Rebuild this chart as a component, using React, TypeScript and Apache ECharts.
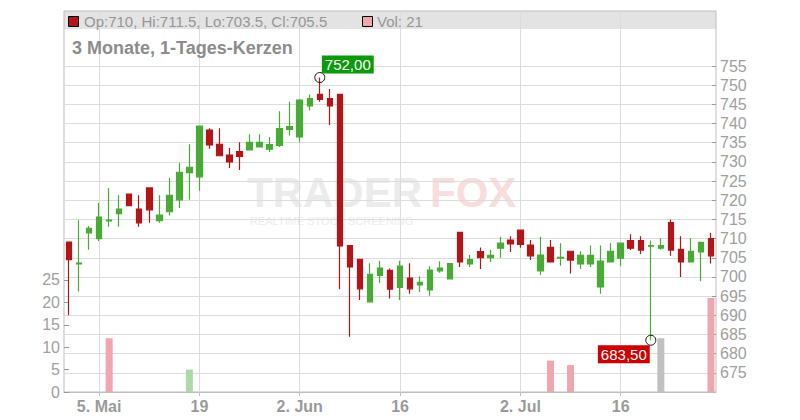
import React, { useEffect, useRef } from "react";
import * as echarts from "echarts";

const FONT = "'Liberation Sans', Arial, Helvetica, sans-serif";

const dates = [
  "2025-04-29", "2025-04-30", "2025-05-02", "2025-05-05", "2025-05-06", "2025-05-07", "2025-05-08", "2025-05-09",
  "2025-05-12", "2025-05-13", "2025-05-14", "2025-05-15", "2025-05-16", "2025-05-19", "2025-05-20", "2025-05-21",
  "2025-05-22", "2025-05-23", "2025-05-26", "2025-05-27", "2025-05-28", "2025-05-29", "2025-05-30", "2025-06-02",
  "2025-06-03", "2025-06-04", "2025-06-05", "2025-06-06", "2025-06-09", "2025-06-10", "2025-06-11", "2025-06-12",
  "2025-06-13", "2025-06-16", "2025-06-17", "2025-06-18", "2025-06-19", "2025-06-20", "2025-06-23", "2025-06-24",
  "2025-06-25", "2025-06-26", "2025-06-27", "2025-06-30", "2025-07-01", "2025-07-02", "2025-07-03", "2025-07-04",
  "2025-07-07", "2025-07-08", "2025-07-09", "2025-07-10", "2025-07-11", "2025-07-14", "2025-07-15", "2025-07-16",
  "2025-07-17", "2025-07-18", "2025-07-21", "2025-07-22", "2025-07-23", "2025-07-24", "2025-07-25", "2025-07-28",
  "2025-07-29",
];

const opens = [
  709.1, 703.4, 711.5, 710.0, 714.6, 716.5, 721.6, 717.7, 723.2, 714.7, 717.0, 720.1, 727.2, 726.1, 738.3, 734.6,
  731.8, 732.7, 733.1, 733.9, 733.3, 734.3, 738.5, 736.5, 744.6, 747.6, 746.5, 747.6, 708.2, 704.6, 693.5, 700.4,
  701.7, 697.3, 699.7, 697.9, 696.6, 701.6, 699.5, 711.6, 703.4, 706.6, 705.0, 707.5, 709.6, 712.2, 708.3, 701.6,
  707.7, 704.9, 706.7, 703.4, 703.4, 697.4, 703.9, 704.9, 709.5, 709.5, 708.0, 707.5, 714.2, 707.2, 703.9, 706.5,
  710.0,
];
const closes = [
  704.5, 703.6, 712.7, 715.6, 714.8, 717.7, 718.6, 714.1, 717.5, 716.1, 721.3, 727.3, 728.6, 739.3, 734.4, 731.6,
  730.0, 731.4, 735.1, 735.1, 734.5, 738.7, 739.2, 746.1, 746.5, 746.3, 744.6, 708.1, 702.6, 696.9, 700.7, 702.3,
  696.8, 702.8, 696.9, 698.6, 701.8, 702.3, 703.5, 703.9, 704.5, 705.0, 705.6, 708.8, 708.6, 708.5, 705.5, 705.7,
  703.9, 705.1, 704.4, 705.6, 705.6, 704.1, 706.7, 708.8, 707.5, 707.0, 708.2, 708.2, 707.0, 703.9, 706.7, 709.0,
  705.5,
];
const lows = [
  690.0, 696.2, 707.1, 709.4, 713.1, 713.1, 718.6, 713.1, 714.1, 714.1, 716.0, 718.0, 720.1, 722.5, 733.4, 731.6,
  728.4, 727.9, 733.1, 733.9, 732.6, 733.9, 736.9, 735.1, 743.4, 745.7, 739.6, 696.8, 684.4, 694.0, 693.5, 698.4,
  694.4, 694.0, 695.6, 696.1, 695.1, 701.1, 699.5, 702.6, 702.6, 702.1, 703.9, 705.0, 706.5, 707.6, 704.4, 700.5,
  703.9, 702.9, 700.9, 702.1, 702.6, 695.6, 703.9, 702.8, 707.0, 706.0, 683.5, 707.1, 705.5, 700.0, 703.9, 698.9,
  703.5,
];
const highs = [
  709.2, 714.8, 713.3, 719.3, 723.2, 721.3, 721.6, 721.3, 723.2, 721.3, 725.8, 729.7, 734.6, 739.3, 738.8, 738.8,
  733.6, 735.1, 737.2, 737.2, 736.5, 743.2, 745.7, 746.4, 747.6, 752.0, 749.0, 747.6, 708.2, 704.6, 703.6, 704.2,
  702.2, 704.2, 703.6, 700.2, 702.8, 704.1, 703.5, 711.6, 705.7, 707.7, 707.1, 710.5, 710.6, 712.2, 709.6, 710.5,
  709.6, 708.8, 706.7, 706.7, 708.2, 708.2, 708.8, 709.0, 711.1, 710.6, 709.5, 710.1, 715.0, 710.6, 710.1, 709.0,
  711.5,
];
const volumes = [
  0, 0, 0, 0, 12, 0, 0, 0, 0, 0, 0, 0, 5, 0, 0, 0,
  0, 0, 0, 0, 0, 0, 0, 0, 0, 0, 0, 0, 0, 0, 0, 0,
  0, 0, 0, 0, 0, 0, 0, 0, 0, 0, 0, 0, 0, 0, 0, 0,
  7, 0, 6, 0, 0, 0, 0, 0, 0, 0, 0, 12, 0, 0, 0, 0,
  21,
];

const tickDates = ["2025-05-05", "2025-05-19", "2025-06-02", "2025-06-16", "2025-07-02", "2025-07-16"];
const tickLabels = ["5. Mai", "19", "2. Jun", "16", "2. Jul", "16"];
const volumeTickValues = [0, 5, 10, 15, 20, 25];

const RED = "#b31518";
const GREEN = "#47ab35";
const VOL_RED = "#efa6ae";
const VOL_GREEN = "#a9dca4";
const VOL_FLAT = "#c0c0c0";

const App: React.FC = () => {
  const ref = useRef<HTMLDivElement>(null);

  useEffect(() => {
    if (!ref.current) return;
    const chart = echarts.init(ref.current, undefined, { renderer: "svg" });

    const tickIdx = tickDates.map((d) => dates.indexOf(d));
    const labelOf: Record<string, string> = {};
    tickDates.forEach((d, i) => (labelOf[d] = tickLabels[i]));

    const candles = dates.map((_, i) => [opens[i], closes[i], lows[i], highs[i]]);
    const volData = volumes.map((v, i) => {
      const prev = i > 0 ? closes[i - 1] : opens[i];
      const c = closes[i] > prev ? VOL_GREEN : closes[i] < prev ? VOL_RED : VOL_FLAT;
      return { value: v, itemStyle: { color: c } };
    });

    let maxIdx = 0;
    let minIdx = 0;
    highs.forEach((h, i) => { if (h > highs[maxIdx]) maxIdx = i; });
    lows.forEach((l, i) => { if (l < lows[minIdx]) minIdx = i; });
    const fmtDE = (p: any) => Number(p.value).toFixed(2).replace(".", ",");

    const last = dates.length - 1;
    const headerText = `Op:${opens[last]}, Hi:${highs[last]}, Lo:${lows[last]}, Cl:${closes[last]}`;
    const volText = `Vol: ${volumes[last]}`;

    const option: any = {
      animation: false,
      textStyle: { fontFamily: FONT },
      grid: [
        { left: 64, right: 84, top: 66, bottom: 28, show: false },
        {
          left: 64, right: 84, top: 11, bottom: 28, show: true,
          borderColor: "#bdbdbd", borderWidth: 1, backgroundColor: "transparent",
        },
      ],
      xAxis: [
        { type: "category", gridIndex: 0, data: dates, boundaryGap: true, show: false },
        {
          type: "category", gridIndex: 1, data: dates, boundaryGap: true,
          axisLine: { show: true, lineStyle: { color: "#bdbdbd" } },
          axisTick: {
            show: true, alignWithLabel: true, length: 4,
            interval: (i: number) => tickIdx.includes(i),
            lineStyle: { color: "#bdbdbd" },
          },
          axisLabel: {
            interval: (i: number) => tickIdx.includes(i),
            formatter: (v: string) => labelOf[v] ?? "",
            color: "#9a9a9a", fontSize: 16, fontWeight: "bold", margin: 6, fontFamily: FONT,
          },
          splitLine: { show: false },
        },
      ],
      yAxis: [
        {
          type: "value", gridIndex: 0, position: "right", min: 670, max: 755, interval: 5,
          axisLine: { show: false },
          axisTick: { show: true, inside: true, length: 4, lineStyle: { color: "#999" } },
          axisLabel: { color: "#a0a0a0", fontSize: 16, margin: 4, showMinLabel: false, fontFamily: FONT },
          splitLine: { show: true, lineStyle: { color: "#dcdcdc", width: 1 } },
        },
        {
          type: "value", gridIndex: 1, position: "left", min: 0, max: 85, interval: 5,
          axisLine: { show: false },
          axisTick: { show: true, inside: true, length: 5, customValues: volumeTickValues, lineStyle: { color: "#999" } },
          axisLabel: {
            customValues: volumeTickValues, color: "#a0a0a0", fontSize: 16, margin: 4, fontFamily: FONT,
            formatter: (v: number) => (v <= 25 ? String(v) : ""),
          },
          splitLine: { show: false },
        },
      ],
      series: [
        {
          type: "bar", name: "Vol", xAxisIndex: 1, yAxisIndex: 1, data: volData, barWidth: 7,
          silent: true,
          markLine: {
            silent: true, symbol: ["none", "none"], z: 1,
            label: { show: false },
            lineStyle: { color: "#dcdcdc", type: "solid", width: 1 },
            emphasis: { disabled: true },
            data: tickDates.map((d) => ({ xAxis: d })),
          },
        },
        {
          type: "candlestick", name: "Kurs", xAxisIndex: 0, yAxisIndex: 0, data: candles, barWidth: 6,
          silent: true,
          itemStyle: { color: GREEN, color0: RED, borderColor: GREEN, borderColor0: RED, borderWidth: 1.2 },
          markPoint: {
            silent: true, symbol: "circle", symbolSize: 10,
            itemStyle: { color: "rgba(255,255,255,0)", borderColor: "#111", borderWidth: 1 },
            label: { show: true, color: "#fff", fontSize: 15, padding: [2, 3, 1, 3], fontFamily: FONT },
            data: [
              {
                coord: [dates[maxIdx], highs[maxIdx]], value: highs[maxIdx],
                label: { backgroundColor: "#0a9a0a", position: "inside", offset: [28, -13], formatter: fmtDE },
              },
              {
                coord: [dates[minIdx], lows[minIdx]], value: lows[minIdx],
                label: { backgroundColor: "#cc0000", position: "inside", offset: [-27, 14], formatter: fmtDE },
              },
            ],
          },
        },
      ],
      graphic: [
        { type: "rect", z: -5, silent: true, shape: { x: 64, y: 11, width: 652, height: 18 }, style: { fill: "#e3e3e3" } },
        {
          type: "text", z: -10, silent: true, x: 247, y: 192,
          style: { text: "TRADER", fill: "#ebebeb", font: `bold 42px ${FONT}`, verticalAlign: "middle" },
        },
        {
          type: "text", z: -10, silent: true, x: 430, y: 192,
          style: { text: "FOX", fill: "#f9dcdc", font: `bold 42px ${FONT}`, verticalAlign: "middle" },
        },
        {
          type: "text", z: -10, silent: true, x: 250, y: 221,
          style: { text: "REALTIME STOCK SCREENING", fill: "#ececec", font: `11px ${FONT}`, verticalAlign: "middle" },
        },
        {
          type: "rect", z: 10, silent: true, shape: { x: 68.5, y: 16.5, width: 10, height: 10 },
          style: { fill: RED, stroke: "#000", lineWidth: 1 },
        },
        {
          type: "text", z: 10, silent: true, x: 84, y: 21.5,
          style: { text: headerText, fill: "#969696", font: `15px ${FONT}`, verticalAlign: "middle" },
        },
        {
          type: "rect", z: 10, silent: true, shape: { x: 362.5, y: 16.5, width: 10, height: 10 },
          style: { fill: VOL_RED, stroke: "#000", lineWidth: 1 },
        },
        {
          type: "text", z: 10, silent: true, x: 377, y: 21.5,
          style: { text: volText, fill: "#969696", font: `15px ${FONT}`, verticalAlign: "middle" },
        },
        {
          type: "text", z: 10, silent: true, x: 72, y: 48,
          style: { text: "3 Monate, 1-Tages-Kerzen", fill: "#8c8c8c", font: `bold 18px ${FONT}`, verticalAlign: "middle" },
        },
      ],
    };

    chart.setOption(option);
    return () => chart.dispose();
  }, []);

  return <div ref={ref} style={{ position: "absolute", left: 0, top: 0, width: 800, height: 420 }} />;
};

export default App;
